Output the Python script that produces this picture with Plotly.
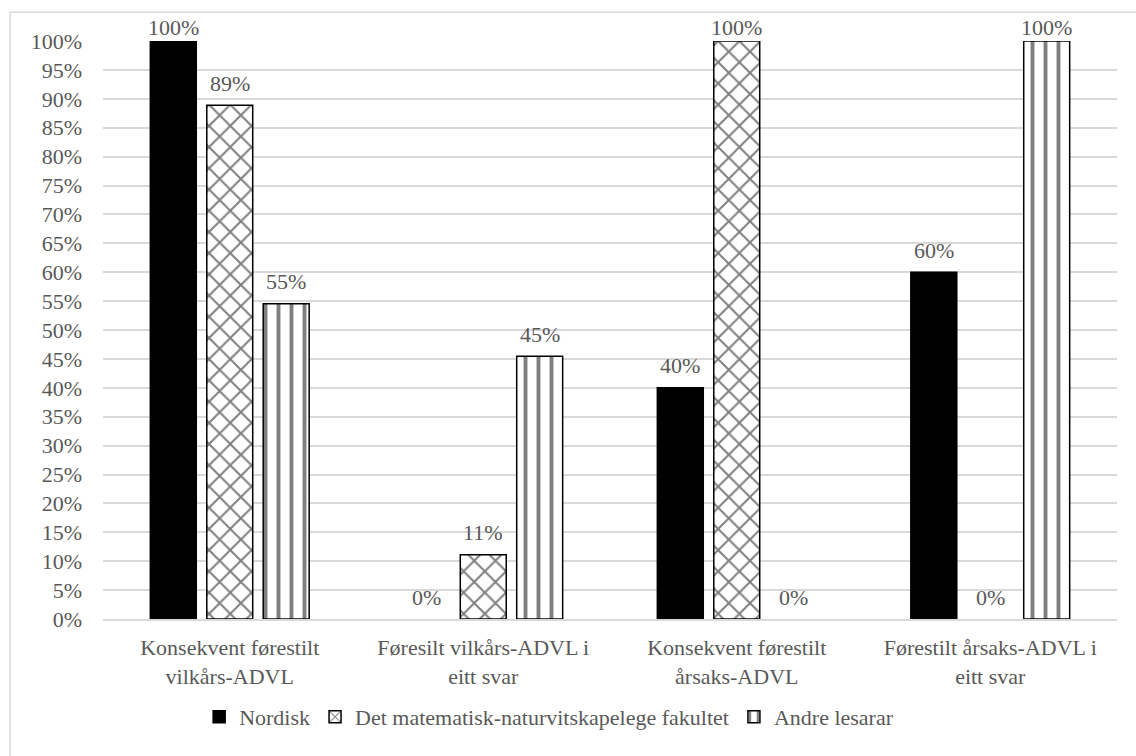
import plotly.graph_objects as go

categories = [
    "Konsekvent førestilt<br>vilkårs-ADVL",
    "Føresilt vilkårs-ADVL i<br>eitt svar",
    "Konsekvent førestilt<br>årsaks-ADVL",
    "Førestilt årsaks-ADVL i<br>eitt svar",
]
series_names = ["Nordisk", "Det matematisk-naturvitskapelege fakultet", "Andre lesarar"]
nordisk = [1.00, 0.00, 0.40, 0.60]
matnat = [0.889, 0.111, 1.00, 0.00]
andre = [0.5455, 0.4545, 0.00, 1.00]
tick_vals = [i / 20 for i in range(21)]
tick_text = [f"{i * 5}%" for i in range(21)]

GREY = "#595959"
FONT = "Liberation Serif"
FS = 22

PLOT_W = 1014          # pixel width of the plotting area
BARGAP = 0.332
GROUPGAP = 0.186
slot = PLOT_W / len(categories) * (1 - BARGAP) / 3   # pixel width of one bar slot

fig = go.Figure()
patterns = [
    dict(shape="", fgcolor="black", bgcolor="black"),
    dict(shape="x", fgcolor="black", bgcolor="white", size=15, solidity=0.25),
    dict(shape="|", fgcolor="black", bgcolor="white", size=13, solidity=0.3),
]
fills = ["black", "white", "white"]
all_series = [nordisk, matnat, andre]
for name, vals, pat, fill in zip(series_names, all_series, patterns, fills):
    fig.add_trace(go.Bar(
        x=categories, y=vals, name=name,
        marker=dict(color=fill, pattern=pat,
                    line=dict(color="black", width=[1.5 if v > 0 else 0 for v in vals])),
        cliponaxis=False,
    ))

# value labels sit a fixed distance above each bar end
for k, vals in enumerate(all_series):
    for cat, v in zip(categories, vals):
        fig.add_annotation(
            x=cat, y=v, xref="x", yref="y",
            text=f"{round(v * 100)}%", showarrow=False,
            xshift=(k - 1) * slot, yshift=22 if v < 0.97 else 14,
            yanchor="middle", xanchor="center",
            font=dict(family=FONT, size=FS, color=GREY),
        )

# light frame around the chart area
fig.add_shape(type="rect", xref="paper", yref="paper",
              x0=-0.0916, x1=1.05, y0=-0.25, y1=1.0498,
              line=dict(color="#d9d9d9", width=1.5), fillcolor="rgba(0,0,0,0)", layer="below")

fig.update_layout(
    width=1136, height=756,
    margin=dict(l=103, r=19, t=41, b=137),
    paper_bgcolor="white", plot_bgcolor="white",
    barmode="group", bargap=BARGAP, bargroupgap=GROUPGAP,
    font=dict(family=FONT, size=FS, color=GREY),
    showlegend=True,
    legend=dict(orientation="h", x=0.44, xanchor="center", y=-0.133, yanchor="top",
                font=dict(family=FONT, size=FS, color=GREY), itemwidth=30,
                traceorder="normal"),
    xaxis=dict(showline=True, linecolor="#d9d9d9", linewidth=1.5,
               tickfont=dict(family=FONT, size=FS, color=GREY), ticks="",
               ticklabelstandoff=8),
    yaxis=dict(range=[0, 1], tickvals=tick_vals, ticktext=tick_text,
               showgrid=True, gridcolor="#d9d9d9", gridwidth=1.5,
               zeroline=False, tickfont=dict(family=FONT, size=FS, color=GREY),
               ticklabelstandoff=20),
)

fig.write_html("out.html")
